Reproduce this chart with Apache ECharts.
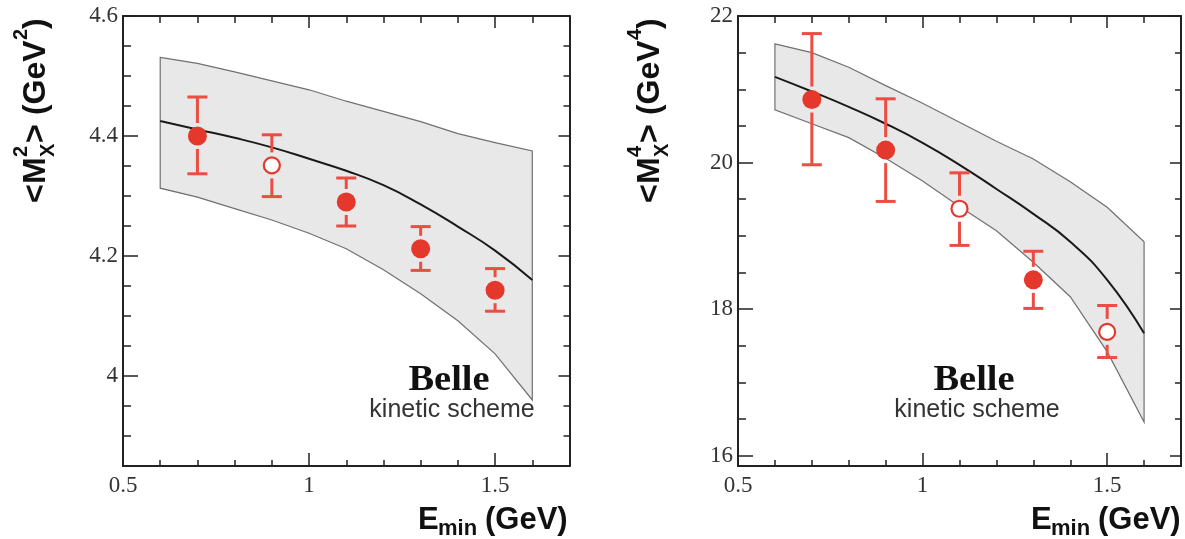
<!DOCTYPE html>
<html>
<head>
<meta charset="utf-8">
<script src="https://cdn.jsdelivr.net/npm/echarts@6/dist/echarts.min.js"></script>
<style>
  html, body { margin: 0; padding: 0; background: #fff; }
  #chart { width: 1185px; height: 539px; }
</style>
</head>
<body>
<div id="chart"></div>
<script>
// kinetic scheme prediction band, sampled every 0.1 GeV
var eGrid = [0.6, 0.7, 0.8, 0.9, 1.0, 1.1, 1.2, 1.3, 1.4, 1.5, 1.6]
var m2Upper = [4.531, 4.521, 4.507, 4.492, 4.477, 4.458, 4.441, 4.424, 4.404, 4.389, 4.375]
var m2Central = [4.425, 4.411, 4.397, 4.381, 4.362, 4.342, 4.318, 4.286, 4.249, 4.209, 4.160]
var m2Lower = [4.313, 4.298, 4.279, 4.260, 4.238, 4.212, 4.177, 4.137, 4.092, 4.037, 3.960]
var m4Upper = [21.62, 21.50, 21.30, 21.05, 20.81, 20.55, 20.29, 20.05, 19.74, 19.39, 18.92]
var m4Central = [21.17, 20.97, 20.76, 20.53, 20.27, 19.97, 19.64, 19.30, 18.92, 18.40, 17.67]
var m4Lower = [20.72, 20.53, 20.34, 20.06, 19.75, 19.40, 19.07, 18.64, 18.17, 17.42, 16.46]

// Belle measurements (open = open marker)
var eMeas = [0.7, 0.9, 1.1, 1.3, 1.5]
var m2Val = [4.400, 4.351, 4.290, 4.212, 4.143]
var m2Hi = [4.465, 4.402, 4.330, 4.249, 4.179]
var m2Lo = [4.337, 4.299, 4.250, 4.176, 4.108]
var m2Open = [0, 1, 0, 0, 0]
var m4Val = [20.86, 20.17, 19.37, 18.40, 17.69]
var m4Hi = [21.76, 20.87, 19.86, 18.79, 18.05]
var m4Lo = [19.97, 19.47, 18.87, 18.01, 17.34]
var m4Open = [0, 0, 1, 0, 1]

// tick labels
var eTicks = [0.5, 1, 1.5]
var m2Ticks = [4, 4.2, 4.4, 4.6]
var m4Ticks = [16, 18, 20, 22]

function steps(a, b, s) {
  var out = []
  for (var v = a; v <= b + 1e-9; v += s) out.push(Math.round(v * 1000) / 1000)
  return out
}

var xAxes = []
var yAxes = []
var lineStyle = { show: true, onZero: false, lineStyle: { color: '#222', width: 2 } }
var tickLabel = { fontFamily: 'Liberation Serif', fontSize: 23, color: '#333' }

function ax(grid, min, max, pos, len, ticks, label, showLine) {
  return {
    type: 'value', gridIndex: grid, min: min, max: max, position: pos,
    splitLine: { show: false },
    axisLine: showLine ? lineStyle : { show: false },
    axisTick: { inside: true, length: len, customValues: ticks, lineStyle: { color: '#222', width: 1.5 } },
    axisLabel: label ? Object.assign({ customValues: ticks }, label) : { show: false }
  }
}

// box with major + minor ticks on all four sides
function frame(grid, xMin, xMax, xMinor, yMin, yMax, yMajor, yMinor) {
  xAxes.push(ax(grid, xMin, xMax, 'bottom', 13, eTicks, Object.assign({ margin: 8 }, tickLabel), true))
  xAxes.push(ax(grid, xMin, xMax, 'bottom', 6, xMinor, null, false))
  xAxes.push(ax(grid, xMin, xMax, 'top', 12, eTicks, null, true))
  xAxes.push(ax(grid, xMin, xMax, 'top', 7, xMinor, null, false))
  yAxes.push(ax(grid, yMin, yMax, 'left', 15, yMajor, Object.assign({ margin: 5 }, tickLabel), true))
  yAxes.push(ax(grid, yMin, yMax, 'left', 8, yMinor, null, false))
  yAxes.push(ax(grid, yMin, yMax, 'right', 11, yMajor, null, true))
  yAxes.push(ax(grid, yMin, yMax, 'right', 6, yMinor, null, false))
}

frame(0, 0.5, 1.7, steps(0.5, 1.7, 0.1), 3.85, 4.6, m2Ticks, steps(3.9, 4.6, 0.05))
frame(1, 0.5, 1.7, steps(0.5, 1.7, 0.1), 15.86, 22, m4Ticks, steps(16, 22, 0.5))

function band(grid, upper, lower) {
  return {
    type: 'custom', xAxisIndex: grid * 4, yAxisIndex: grid * 4, z: 1, silent: true,
    data: [[eGrid[0], upper[0]]],
    renderItem: function (params, api) {
      var pts = []
      eGrid.forEach(function (e, i) { pts.push(api.coord([e, upper[i]])) })
      for (var i = eGrid.length - 1; i >= 0; i--) pts.push(api.coord([eGrid[i], lower[i]]))
      return { type: 'polygon', shape: { points: pts }, style: { fill: '#e8e8e8', stroke: '#707070', lineWidth: 1.2 } }
    }
  }
}

function central(grid, vals) {
  return {
    type: 'line', xAxisIndex: grid * 4, yAxisIndex: grid * 4, z: 3, silent: true,
    symbol: 'none', smooth: 0.5,
    lineStyle: { color: '#1a1a1a', width: 2 },
    data: eGrid.map(function (e, i) { return [e, vals[i]] })
  }
}

function points(grid, val, hi, lo, open) {
  return {
    type: 'custom', xAxisIndex: grid * 4, yAxisIndex: grid * 4, z: 5, silent: true,
    data: eMeas.map(function (e, i) { return [e, val[i], lo[i], hi[i], open[i]] }),
    renderItem: function (params, api) {
      var x = api.value(0)
      var c = api.coord([x, api.value(1)])
      var lo = api.coord([x, api.value(2)])
      var hi = api.coord([x, api.value(3)])
      var gap = 13, w = 10
      var ls = { stroke: '#ea4d42', lineWidth: 3 }
      var kids = [
        { type: 'line', shape: { x1: c[0], y1: hi[1], x2: c[0], y2: c[1] - gap }, style: ls },
        { type: 'line', shape: { x1: c[0], y1: c[1] + gap, x2: c[0], y2: lo[1] }, style: ls },
        { type: 'line', shape: { x1: c[0] - w, y1: hi[1], x2: c[0] + w, y2: hi[1] }, style: ls },
        { type: 'line', shape: { x1: c[0] - w, y1: lo[1], x2: c[0] + w, y2: lo[1] }, style: ls }
      ]
      if (api.value(4)) {
        kids.push({ type: 'circle', shape: { cx: c[0], cy: c[1], r: 8 }, style: { fill: '#fff', stroke: '#e5382c', lineWidth: 2.2 } })
      } else {
        kids.push({ type: 'circle', shape: { cx: c[0], cy: c[1], r: 9.5 }, style: { fill: '#e5382c' } })
      }
      return { type: 'group', children: kids }
    }
  }
}

function txt(x, y, s, font, fill, align) {
  return {
    type: 'text', x: x, y: y,
    style: { text: s, font: font, fill: fill || '#111', align: align || 'left', verticalAlign: 'middle', textAlign: align || 'left', textVerticalAlign: 'middle' }
  }
}

var big = 'bold 32px "Liberation Sans"'
var small = 'bold 20px "Liberation Sans"'

// <M^n_X> (GeV^n), read bottom to top
function yTitle(x, y, pow) {
  return {
    type: 'group', x: x, y: y, rotation: Math.PI / 2,
    children: [
      txt(0, 0, '<', big), txt(19, 0, 'M', big),
      txt(46, -15, pow, small), txt(46, 12, 'X', small),
      txt(60, 0, '>', big), txt(79, 0, ' (GeV', big),
      txt(163, -15, pow, small), txt(174, 0, ')', big)
    ]
  }
}

function xTitle(x0) {
  return {
    type: 'group', children: [
      txt(x0, 520, 'E', 'bold 31px "Liberation Sans"'),
      txt(x0 + 20, 529, 'min', 'bold 22px "Liberation Sans"'),
      txt(x0 + 67, 520, '(GeV)', 'bold 31px "Liberation Sans"')
    ]
  }
}

function label(cx, kx) {
  var b = txt(cx, 381, 'Belle', 'bold 35px "Liberation Serif"', '#111', 'center')
  b.scaleX = 1.1
  return { type: 'group', children: [b, txt(kx, 410, 'kinetic scheme', '25px "Liberation Sans"', '#333', 'center')] }
}

var option = {
  animation: false,
  backgroundColor: '#fff',
  grid: [
    { left: 123, top: 16, width: 446.5, height: 450 },
    { left: 738, top: 16, width: 443, height: 450 }
  ],
  xAxis: xAxes,
  yAxis: yAxes,
  series: [
    band(0, m2Upper, m2Lower), central(0, m2Central), points(0, m2Val, m2Hi, m2Lo, m2Open),
    band(1, m4Upper, m4Lower), central(1, m4Central), points(1, m4Val, m4Hi, m4Lo, m4Open)
  ],
  graphic: [
    yTitle(36, 203, '2'), yTitle(650, 203, '4'),
    xTitle(418), xTitle(1031),
    label(449, 452), label(974, 977)
  ]
}

var chart = echarts.init(document.getElementById('chart'))
chart.setOption(option)
</script>
</body>
</html>
